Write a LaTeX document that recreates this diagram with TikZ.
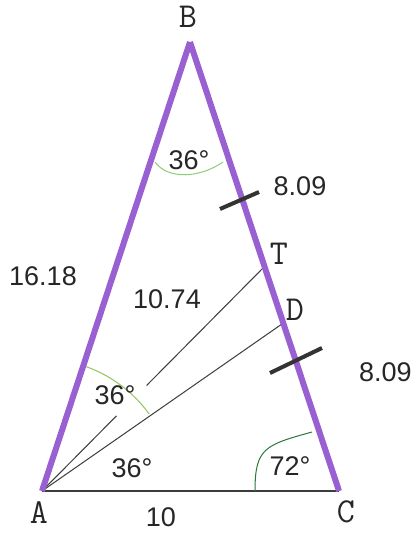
\documentclass[tikz,border=0pt]{standalone}
\usepackage{fontspec}
\setmainfont{Liberation Sans}
\usetikzlibrary{calc}
\definecolor{purp}{RGB}{152,96,208}
\definecolor{lineg}{RGB}{60,60,60}
\definecolor{arcA}{RGB}{150,195,90}
\definecolor{arcB}{RGB}{140,205,120}
\definecolor{arcC}{RGB}{40,120,60}
\begin{document}
\begin{tikzpicture}[x=1pt,y=-1pt,
  side/.style={purp, line width=6pt, line cap=butt},
  segline/.style={lineg, line width=1pt},
  baseseg/.style={lineg, line width=1.5pt},
  tickmark/.style={black!80, line width=4pt},
  anglearc/.style={line width=1pt},
  numlbl/.style={font=\fontsize{27}{30}\selectfont, text=black!85, inner sep=0pt},
  ptlbl/.style={font=\ttfamily\fontsize{35}{38}\selectfont, text=black!85, inner sep=0pt}]
\useasboundingbox (0,0) rectangle (414,533);
\fill[white] (0,0) rectangle (414,533);
% vertices
\coordinate (A) at (42,491);
\coordinate (B) at (190,42);
\coordinate (C) at (339,491);
\coordinate (T) at ($(B)!0.5!(C)$);
\coordinate (D) at ($(B)!0.626!(C)$);
\coordinate (Tgap1) at ($(A)!0.335!(T)$);
\coordinate (Tgap2) at ($(A)!0.47!(T)$);
% thin segments
\draw[baseseg] (A) -- (C);
\draw[segline] (A) -- (Tgap1);
\draw[segline] (Tgap2) -- (T);
\draw[segline] (A) -- (D);
% angle arcs
\draw[anglearc, arcA] (82.8,365.5) .. controls (109.3,374.1) and (133.1,391.5) .. (149.3,414.2);
\draw[anglearc, arcB] (155,162) .. controls (168,180) and (200,178) .. (223,162);
\draw[anglearc, arcC] (255,491) .. controls (255,448) and (265,445) .. (312,432);
% purple sides
\draw[side] (A) -- (B);
\draw[side] (B) -- (C);
% tick marks
\coordinate (k1a) at (220,209);
\coordinate (k1b) at (259,192);
\coordinate (k2a) at (270,373);
\coordinate (k2b) at (322,348);
\draw[tickmark] (k1a) -- (k1b);
\draw[tickmark] (k2a) -- (k2b);
% point labels
\node[ptlbl] (lB) at (188,17) {B};
\node[ptlbl] (lT) at (279,254) {T};
\node[ptlbl] (lD) at (295,310) {D};
\node[ptlbl] (lA) at (39,513) {A};
\node[ptlbl] (lC) at (346,512) {C};
% numbers
\node[numlbl] (n36B) at (189,160) {36°};
\node[numlbl] (n809a) at (300,186) {8.09};
\node[numlbl] (n1618) at (43,276) {16.18};
\node[numlbl] (n1074) at (167,299) {10.74};
\node[numlbl, anchor=west] (n809b) at (359,372) {8.09};
\node[numlbl] (n36A) at (115,395) {36°};
\node[numlbl] (n36L) at (132,468) {36°};
\node[numlbl] (n72) at (290,466) {72°};
\node[numlbl] (n10) at (161,517) {10};
\end{tikzpicture}
\end{document}
